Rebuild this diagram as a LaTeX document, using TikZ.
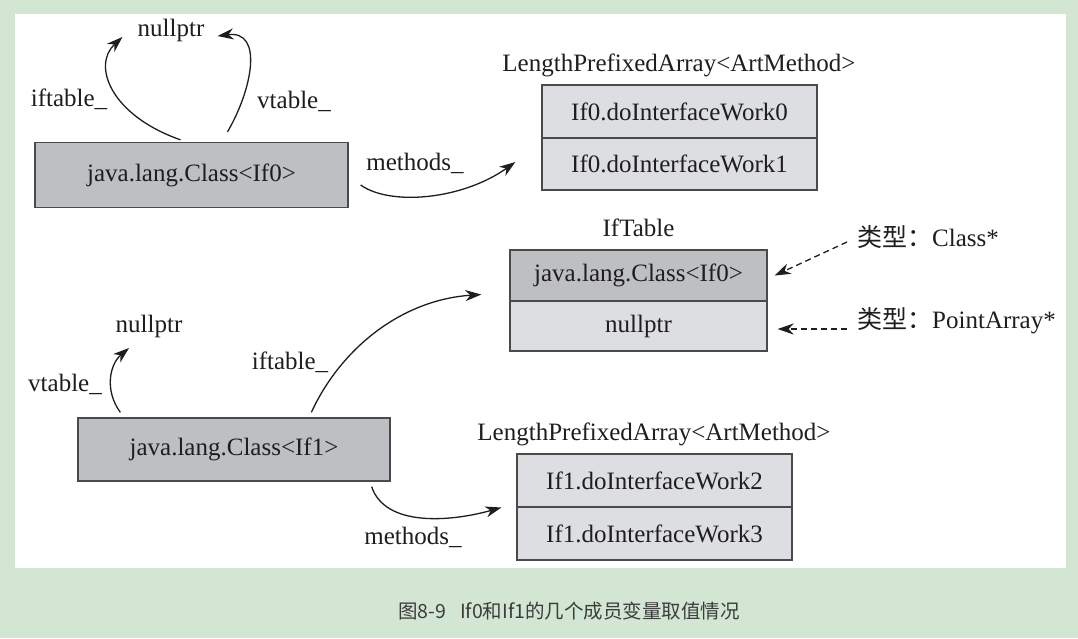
\documentclass[tikz,border=0pt]{standalone}
\usepackage{fontspec}
\setmainfont{Liberation Serif}
\newfontfamily\cjk{Noto Sans CJK SC}
\usetikzlibrary{calc,arrows.meta}
\definecolor{bggreen}{HTML}{D2E6D3}
\definecolor{darkcell}{HTML}{BEBFC3}
\definecolor{lightcell}{HTML}{DDDEE1}
\definecolor{edgegray}{HTML}{4A4A4A}
\definecolor{inkgray}{HTML}{1E1E1E}
\definecolor{capgray}{HTML}{3C3C3C}
\newcommand\bigfs{\fontsize{25}{30}\selectfont}
\begin{document}
\begin{tikzpicture}[x=1pt,y=-1pt,
  lbl/.style={font=\bigfs, text=inkgray, inner sep=0pt},
  cellbox/.style={draw=edgegray, line width=1.3pt, font=\bigfs, text=inkgray, inner sep=0pt, anchor=center},
  darkbox/.style={cellbox, fill=darkcell},
  lightbox/.style={cellbox, fill=lightcell},
  ptr/.style={draw=inkgray, line width=1.3pt, -{Stealth[length=16pt,width=11pt,inset=5pt]}},
  dptr/.style={ptr, dash pattern=on 6pt off 4pt}
]
\useasboundingbox (0,0) rectangle (1078,638);
\fill[bggreen] (0,0) rectangle (1078,638);
\fill[white] (15,14) rectangle (1066,568);

% top class
\node[darkbox, minimum width=313pt, minimum height=65pt] (c0) at (191.5,175) {java.lang.Class<If0>};
\node[lbl] (np0) at (171,30) {nullptr};
\node[lbl] (lif0) at (69,99) {iftable\_};
\node[lbl] (lvt0) at (294,101) {vtable\_};
\node[lbl] (lm0) at (415,163) {methods\_};

% top methods array
\node[lbl] (la0) at (679,65) {LengthPrefixedArray<ArtMethod>};
\node[lightbox, minimum width=275pt, minimum height=53pt] (m00) at (679.5,111.5) {If0.doInterfaceWork0};
\node[lightbox, minimum width=275pt, minimum height=52pt] (m01) at (679.5,164) {If0.doInterfaceWork1};

% IfTable
\node[lbl] (itl) at (638.5,228) {IfTable};
\node[darkbox, minimum width=257pt, minimum height=51pt] (t0) at (638.5,275.5) {java.lang.Class<If0>};
\node[lightbox, minimum width=257pt, minimum height=50pt] (t1) at (638.5,326) {nullptr};
\node[lbl, anchor=west] (k1) at (857,237) {{\cjk 类型：}Class*};
\node[lbl, anchor=west] (k2) at (857,321) {{\cjk 类型：}PointArray*};

% bottom class
\node[darkbox, minimum width=312pt, minimum height=63pt] (c1) at (234,449.5) {java.lang.Class<If1>};
\node[lbl] (np1) at (149,326) {nullptr};
\node[lbl] (lvt1) at (65,384) {vtable\_};
\node[lbl] (lif1) at (290,362) {iftable\_};
\node[lbl] (lm1) at (413,537) {methods\_};

% bottom methods array
\node[lbl] (la1) at (654,434) {LengthPrefixedArray<ArtMethod>};
\node[lightbox, minimum width=275pt, minimum height=53pt] (m10) at (654.5,480.5) {If1.doInterfaceWork2};
\node[lightbox, minimum width=275pt, minimum height=53pt] (m11) at (654.5,533.5) {If1.doInterfaceWork3};

% connectors top
\draw[ptr] ($(c0.north)+(-11,-2)$) .. controls (110,115) and (92,65) .. ($(np0.west)+(-15,7)$);
\draw[ptr] ($(c0.north)+(36,-10)$) .. controls (252,90) and (264,30) .. ($(np0.east)+(13,6)$);
\draw[ptr] ($(c0.east)+(12,10)$) .. controls (390,206) and (462,200) .. ($(m01.west)+(-26,-2)$);

% IfTable dashed
\draw[dptr] ($(k1.west)+(-10,5)$) -- ($(t0.east)+(7,0)$);
\draw[dptr] ($(k2.west)+(-10,8)$) -- ($(t1.east)+(10,3)$);

% connectors bottom
\draw[ptr] ($(c1.north west)+(43,-5)$) .. controls (104,390) and (110,364) .. ($(np1.center)+(-20,22)$);
\draw[ptr] ($(c1.north west)+(234,-5)$) .. controls (340,350) and (400,300) .. ($(t0.west)+(-28,19)$);
\draw[ptr] ($(c1.south east)+(-19,5)$) .. controls (385,527) and (450,522) .. ($(m10.west)+(-15,27)$);

% caption
\node[anchor=west, inner sep=0pt, text=capgray, font=\cjk\fontsize{19.5}{24}\selectfont] (cap) at (398,611) {图8-9\hspace{14pt}If0和If1的几个成员变量取值情况};
\end{tikzpicture}
\end{document}
